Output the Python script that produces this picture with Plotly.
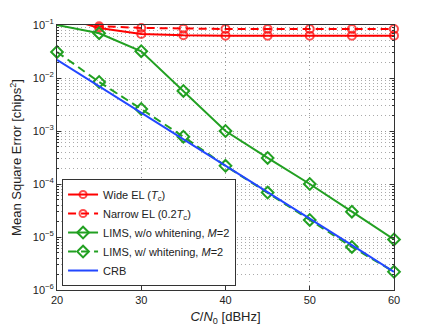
import plotly.graph_objects as go

# C/N0 values [dBHz]
cn0 = [20, 25, 30, 35, 40, 45, 50, 55, 60]

# mean square error [chips^2]
wide_el = [0.15, 0.088, 0.068, 0.064, 0.063, 0.063, 0.063, 0.063, 0.063]
narrow_el = [0.15, 0.095, 0.088, 0.085, 0.084, 0.084, 0.084, 0.084, 0.084]
lims_wo = [0.1, 0.07, 0.032, 0.0057, 0.001, 3.1e-4, 1.0e-4, 3.0e-5, 9.0e-6]
lims_w = [0.031, 0.0084, 0.0026, 7.8e-4, 2.2e-4, 6.9e-5, 2.1e-5, 6.5e-6, 2.2e-6]
crb = [0.022, 0.007, 0.0022, 7.0e-4, 2.2e-4, 7.0e-5, 2.2e-5, 7.0e-6, 2.2e-6]

# y tick labels
ytick_vals = [1e-6, 1e-5, 1e-4, 1e-3, 1e-2, 1e-1]
ytick_text = ["10<sup>−6</sup>", "10<sup>−5</sup>", "10<sup>−4</sup>",
              "10<sup>−3</sup>", "10<sup>−2</sup>", "10<sup>−1</sup>"]

RED = "#ff0000"
GREEN = "#22a022"
BLUE = "#2247ff"
DASH = "8px,5px"
DOTS = "1px,3px"

fig = go.Figure()

# first red point lies above the axes, so hide its marker
red_sizes = [0] + [8] * (len(cn0) - 1)

fig.add_trace(go.Scatter(
    x=cn0, y=wide_el, name="Wide EL (<i>T</i><sub>c</sub>)",
    mode="lines+markers", cliponaxis=False,
    line=dict(color=RED, width=2),
    marker=dict(symbol="circle-open", size=red_sizes, color=RED, line=dict(width=2))))

fig.add_trace(go.Scatter(
    x=cn0, y=narrow_el, name="Narrow EL (0.2<i>T</i><sub>c</sub>)",
    mode="lines+markers", cliponaxis=False,
    line=dict(color=RED, width=2, dash=DASH),
    marker=dict(symbol="circle-open", size=red_sizes, color=RED, line=dict(width=2))))

fig.add_trace(go.Scatter(
    x=cn0, y=lims_wo, name="LIMS, w/o whitening, <i>M</i>=2",
    mode="lines+markers", cliponaxis=False,
    line=dict(color=GREEN, width=2),
    marker=dict(symbol="diamond-open", size=9, color=GREEN, line=dict(width=2))))

fig.add_trace(go.Scatter(
    x=cn0, y=lims_w, name="LIMS, w/ whitening, <i>M</i>=2",
    mode="lines+markers", cliponaxis=False,
    line=dict(color=GREEN, width=2, dash=DASH),
    marker=dict(symbol="diamond-open", size=9, color=GREEN, line=dict(width=2))))

fig.add_trace(go.Scatter(
    x=cn0, y=crb, name="CRB",
    mode="lines", cliponaxis=False,
    line=dict(color=BLUE, width=2)))

# the page body adds an 8px margin, so the figure is sized to fit inside it
fig.update_layout(
    width=428, height=320,
    margin=dict(l=49, r=42, t=17, b=38),
    paper_bgcolor="white", plot_bgcolor="white",
    font=dict(family="Liberation Sans, Arial, sans-serif", size=11, color="#222"),
    showlegend=True,
    legend=dict(
        x=0.015, y=0.015, xanchor="left", yanchor="bottom",
        bgcolor="white", bordercolor="#333", borderwidth=1,
        font=dict(size=11), itemwidth=30, tracegroupgap=0,
    ),
)

fig.update_xaxes(
    range=[20, 60], dtick=10, tick0=20, automargin=False,
    showline=True, linecolor="#333", linewidth=1, mirror="ticks",
    ticks="inside", ticklen=4, tickcolor="#333",
    showgrid=True, gridcolor="#999", griddash=DOTS, gridwidth=1,
    zeroline=False,
    title=dict(text="<i>C</i>/<i>N</i><sub>0</sub> [dBHz]", standoff=6),
)

fig.update_yaxes(
    type="log", range=[-6, -1], automargin=False,
    tickmode="array", tickvals=ytick_vals, ticktext=ytick_text,
    tickfont=dict(size=11),
    showline=True, linecolor="#333", linewidth=1, mirror="ticks",
    ticks="inside", ticklen=4, tickcolor="#333",
    showgrid=True, gridcolor="#999", griddash=DOTS, gridwidth=1,
    minor=dict(ticks="inside", ticklen=2, tickcolor="#333", dtick="D1",
               showgrid=True, gridcolor="#aaa", griddash=DOTS, gridwidth=1),
    zeroline=False,
    title=dict(text="Mean Square Error [chips<sup>2</sup>]", standoff=8),
)

fig.write_html("out.html")
